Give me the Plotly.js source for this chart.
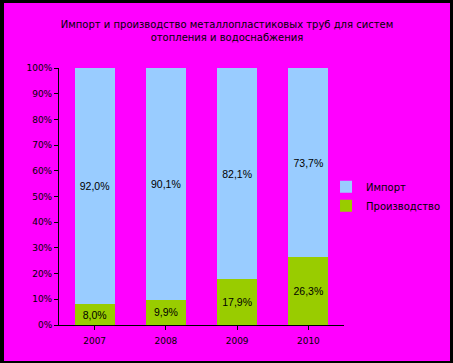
<!DOCTYPE html>
<html><head><meta charset="utf-8">
<script src="https://cdn.plot.ly/plotly-3.0.1.min.js"></script>
<style>
html,body{margin:0;padding:0;background:#000;width:453px;height:363px;overflow:hidden}
#chart{position:absolute;left:4px;top:3px;width:446px;height:358px}
</style></head>
<body><div id="chart"></div>
<script>
const years = ['2007', '2008', '2009', '2010'];
const production = [8.0, 9.9, 17.9, 26.3];
const imports = [92.0, 90.1, 82.1, 73.7];
const seriesNames = ['Производство', 'Импорт'];
const titleText = 'Импорт и производство металлопластиковых труб для систем<br>отопления и водоснабжения';

function fmt(v){ return v.toFixed(1).replace('.', ',') + '%'; }

const labelFont = {family:'Arial', size:10.5, color:'#000'};
const traces = [
  {type:'bar', name:seriesNames[0], x:years, y:production, text:production.map(fmt),
   marker:{color:'#99CC00'}, textposition:'inside', insidetextanchor:'middle', textangle:0,
   constraintext:'none', textfont:labelFont, hoverinfo:'none'},
  {type:'bar', name:seriesNames[1], x:years, y:imports, text:imports.map(fmt),
   marker:{color:'#99CCFF'}, textposition:'inside', insidetextanchor:'middle', textangle:0,
   constraintext:'none', textfont:labelFont, hoverinfo:'none'}
];

const tickFont = {family:'DejaVu Sans', size:9, color:'#000'};
const layout = {
  width:446, height:358,
  margin:{l:55, r:106, t:65, b:36, autoexpand:false},
  paper_bgcolor:'#FF00FF', plot_bgcolor:'#FF00FF',
  barmode:'stack', bargap:0.44,
  title:{text:titleText, font:{family:'DejaVu Sans', size:10, color:'#000'},
         x:0.5, xanchor:'center', xref:'container', y:1-25/358, yref:'container', yanchor:'middle'},
  xaxis:{showline:true, linecolor:'#000', linewidth:1, ticks:'outside', ticklen:4, tickcolor:'#000',
         tickson:'boundaries', tickfont:tickFont, ticklabelstandoff:3, automargin:false,
         showgrid:false, zeroline:false, fixedrange:true},
  yaxis:{range:[0,100], dtick:10, ticksuffix:'%', showline:true, linecolor:'#000', linewidth:1,
         ticks:'outside', ticklen:4, tickcolor:'#000', showgrid:false, zeroline:false, automargin:false,
         tickfont:tickFont, fixedrange:true},
  legend:{xref:'container', x:0.722, xanchor:'left', yref:'container', y:0.46, yanchor:'middle',
          traceorder:'reversed', bgcolor:'rgba(0,0,0,0)',
          font:{family:'DejaVu Sans', size:10, color:'#000'}, itemwidth:30, tracegroupgap:2},
  showlegend:true
};

Plotly.newPlot('chart', traces, layout, {displayModeBar:false, staticPlot:true});
</script></body></html>
